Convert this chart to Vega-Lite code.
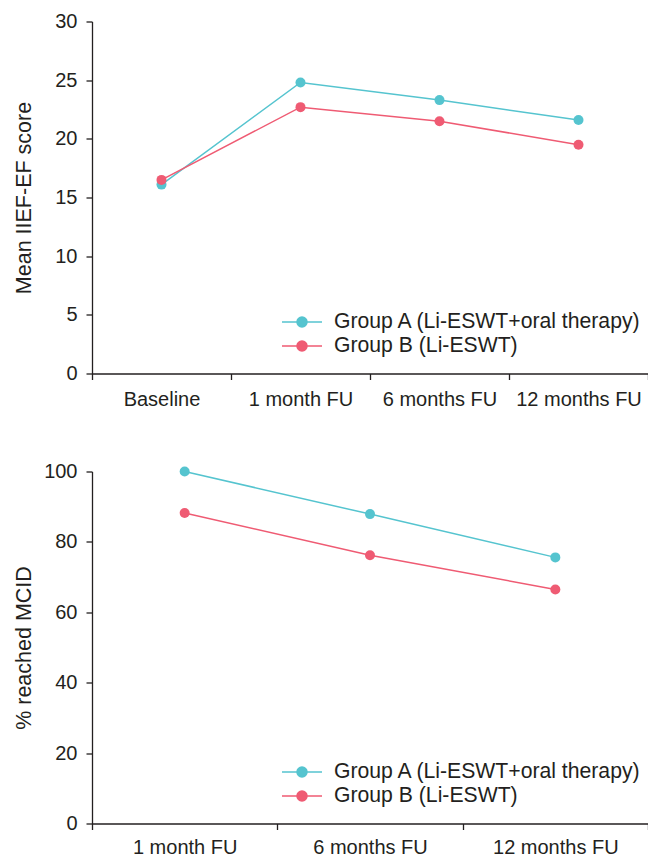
{
  "$schema": "https://vega.github.io/schema/vega-lite/v6.json",
  "padding": {"left": 13, "top": 11.5, "right": 0, "bottom": 0},
  "background": "white",
  "config": {
    "view": {"stroke": null},
    "font": "Liberation Sans",
    "axis": {
      "domainColor": "#231f20",
      "domainWidth": 1.3,
      "tickColor": "#231f20",
      "tickWidth": 1.3,
      "tickSize": 6,
      "labelColor": "#231f20",
      "labelFontSize": 20,
      "titleColor": "#231f20",
      "titleFontSize": 21.5,
      "titleFontWeight": "normal",
      "grid": false
    },
    "legend": {
      "labelFontSize": 21.2,
      "labelColor": "#231f20",
      "labelLimit": 500,
      "padding": 0
    }
  },
  "spacing": 52,
  "vconcat": [
    {
      "width": 556,
      "height": 352,
      "data": {
        "values": [
          {"time": "Baseline", "group": "Group A (Li-ESWT+oral therapy)", "score": 16.1},
          {"time": "1 month FU", "group": "Group A (Li-ESWT+oral therapy)", "score": 24.8},
          {"time": "6 months FU", "group": "Group A (Li-ESWT+oral therapy)", "score": 23.3},
          {"time": "12 months FU", "group": "Group A (Li-ESWT+oral therapy)", "score": 21.6},
          {"time": "Baseline", "group": "Group B (Li-ESWT)", "score": 16.5},
          {"time": "1 month FU", "group": "Group B (Li-ESWT)", "score": 22.7},
          {"time": "6 months FU", "group": "Group B (Li-ESWT)", "score": 21.5},
          {"time": "12 months FU", "group": "Group B (Li-ESWT)", "score": 19.5}
        ]
      },
      "mark": {"type": "line", "strokeWidth": 1.5, "point": {"filled": true, "size": 100, "opacity": 1}},
      "encoding": {
        "x": {
          "field": "time", "type": "nominal",
          "sort": ["Baseline", "1 month FU", "6 months FU", "12 months FU"],
          "scale": {"type": "band", "paddingInner": 0, "paddingOuter": 0},
          "axis": {"title": null, "labelAngle": 0, "tickBand": "extent", "labelPadding": 10}
        },
        "y": {
          "field": "score", "type": "quantitative",
          "scale": {"domain": [0, 30], "nice": false},
          "axis": {"title": "Mean IIEF-EF score", "values": [0, 5, 10, 15, 20, 25, 30], "labelPadding": 9, "titleX": -62, "titleBaseline": "alphabetic"}
        },
        "color": {
          "field": "group", "type": "nominal",
          "scale": {"domain": ["Group A (Li-ESWT+oral therapy)", "Group B (Li-ESWT)"], "range": ["#55C4CF", "#EF5B73"]},
          "legend": {
            "title": null, "orient": "none", "legendX": 199, "legendY": 289.5,
            "symbolType": "M-2,0L2,0M-0.5,0A0.5,0.5,0,1,1,0.5,0A0.5,0.5,0,1,1,-0.5,0Z",
            "symbolSize": 400, "symbolStrokeWidth": 1.5, "labelOffset": 21, "rowPadding": 2,
            "encode": {"symbols": {"update": {"fill": {"signal": "datum.value === 'Group A (Li-ESWT+oral therapy)' ? '#55C4CF' : '#EF5B73'"}, "opacity": {"value": 1}}}}
          }
        }
      }
    },
    {
      "width": 556,
      "height": 352,
      "data": {
        "values": [
          {"time": "1 month FU", "group": "Group A (Li-ESWT+oral therapy)", "pct": 100},
          {"time": "6 months FU", "group": "Group A (Li-ESWT+oral therapy)", "pct": 87.9},
          {"time": "12 months FU", "group": "Group A (Li-ESWT+oral therapy)", "pct": 75.6},
          {"time": "1 month FU", "group": "Group B (Li-ESWT)", "pct": 88.2},
          {"time": "6 months FU", "group": "Group B (Li-ESWT)", "pct": 76.2},
          {"time": "12 months FU", "group": "Group B (Li-ESWT)", "pct": 66.5}
        ]
      },
      "mark": {"type": "line", "strokeWidth": 1.5, "point": {"filled": true, "size": 100, "opacity": 1}},
      "encoding": {
        "x": {
          "field": "time", "type": "nominal",
          "sort": ["1 month FU", "6 months FU", "12 months FU"],
          "scale": {"type": "band", "paddingInner": 0, "paddingOuter": 0},
          "axis": {"title": null, "labelAngle": 0, "tickBand": "extent", "labelPadding": 8}
        },
        "y": {
          "field": "pct", "type": "quantitative",
          "scale": {"domain": [0, 100], "nice": false},
          "axis": {"title": "% reached MCID", "values": [0, 20, 40, 60, 80, 100], "labelPadding": 9, "titleX": -62, "titleBaseline": "alphabetic"}
        },
        "color": {
          "field": "group", "type": "nominal",
          "scale": {"domain": ["Group A (Li-ESWT+oral therapy)", "Group B (Li-ESWT)"], "range": ["#55C4CF", "#EF5B73"]},
          "legend": {
            "title": null, "orient": "none", "legendX": 199, "legendY": 289.5,
            "symbolType": "M-2,0L2,0M-0.5,0A0.5,0.5,0,1,1,0.5,0A0.5,0.5,0,1,1,-0.5,0Z",
            "symbolSize": 400, "symbolStrokeWidth": 1.5, "labelOffset": 21, "rowPadding": 2,
            "encode": {"symbols": {"update": {"fill": {"signal": "datum.value === 'Group A (Li-ESWT+oral therapy)' ? '#55C4CF' : '#EF5B73'"}, "opacity": {"value": 1}}}}
          }
        }
      }
    }
  ],
  "resolve": {"scale": {"x": "independent", "y": "independent", "color": "independent"}, "legend": {"color": "independent"}}
}
